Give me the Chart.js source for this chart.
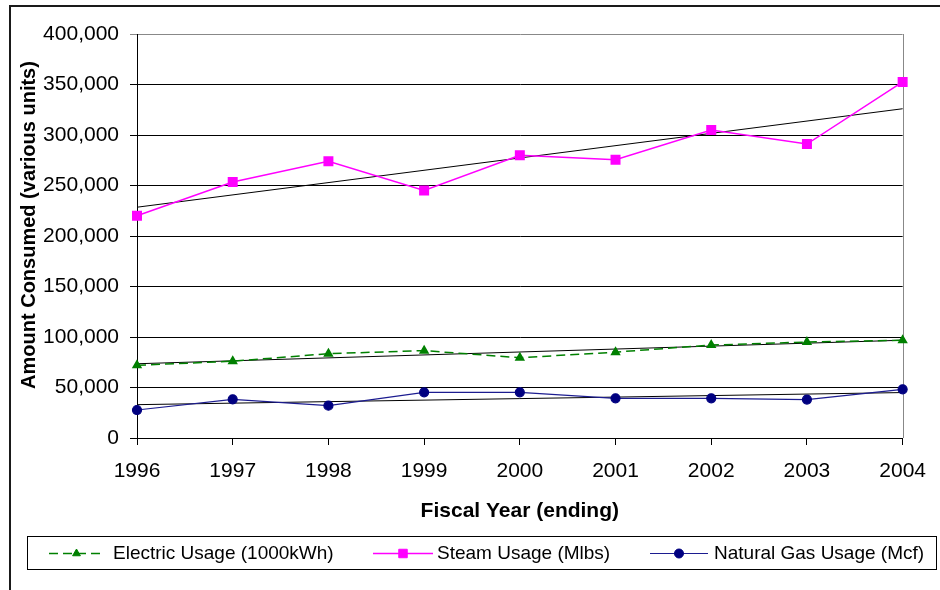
<!DOCTYPE html>
<html>
<head>
<meta charset="utf-8">
<script src="https://cdn.jsdelivr.net/npm/chart.js@4.4.1/dist/chart.umd.min.js"></script>
<style>
  html, body { margin: 0; padding: 0; background: #fff; }
  #wrap { width: 940px; height: 590px; }
</style>
</head>
<body>
<div id="wrap"><canvas id="usage-chart" width="940" height="590"></canvas></div>
<script>
// Fiscal years (x axis categories)
const years = ['1996', '1997', '1998', '1999', '2000', '2001', '2002', '2003', '2004'];

// Yearly consumption
const electricUsage = [72000, 76000, 83500, 86500, 79500, 85000, 92000, 95000, 96700];
const steamUsage = [220000, 253500, 274000, 245000, 280000, 275500, 305000, 291000, 352500];
const gasUsage = [27700, 38300, 32000, 45200, 45200, 39300, 39300, 38000, 48200];

// Linear trendlines: value at first and last year
const electricTrend = [73500, 96800];
const steamTrend = [228500, 326000];
const gasTrend = [33000, 45000];

// Y axis range
const yMin = 0;
const yMax = 400000;
const yStep = 50000;

const fontFamily = "'Liberation Sans', Arial, sans-serif";

// turn two end values into a straight line across the category axis
function trendPoints(ends) {
    return [
        { x: years[0], y: ends[0] },
        { x: years[years.length - 1], y: ends[1] }
    ];
}

function trendDataset(ends) {
    return {
        label: '',
        data: trendPoints(ends),
        borderColor: '#000',
        borderWidth: 1,
        pointRadius: 0,
        fill: false,
        tension: 0,
        clip: false,
        isTrend: true
    };
}

// Outer frame of the chart (only left and top edges are visible)
const framePlugin = {
    id: 'frame',
    beforeDraw(chart) {
        const ctx = chart.ctx;
        ctx.save();
        ctx.fillStyle = '#fff';
        ctx.fillRect(0, 0, chart.width, chart.height);
        ctx.strokeStyle = '#1a1a1a';
        ctx.lineWidth = 2;
        ctx.strokeRect(10, 6, chart.width + 20, chart.height + 20);
        ctx.restore();
    }
};

// Grey right edge of the plot area
const plotEdgePlugin = {
    id: 'plotEdge',
    beforeDatasetsDraw(chart) {
        const { ctx, chartArea } = chart;
        const x = Math.round(chartArea.right) + 0.5;
        ctx.save();
        ctx.strokeStyle = '#888';
        ctx.lineWidth = 1;
        ctx.beginPath();
        ctx.moveTo(x, chartArea.top);
        ctx.lineTo(x, chartArea.bottom);
        ctx.stroke();
        ctx.restore();
    }
};

// Y axis title, sitting a bit above the plot centre like the original
const yTitlePlugin = {
    id: 'yTitle',
    afterDraw(chart) {
        const ctx = chart.ctx;
        ctx.save();
        ctx.translate(29.5, 225);
        ctx.rotate(-Math.PI / 2);
        ctx.fillStyle = '#000';
        ctx.font = "bold 20px " + fontFamily;
        ctx.textAlign = 'center';
        ctx.textBaseline = 'middle';
        ctx.fillText('Amount Consumed (various units)', 0, 0);
        ctx.restore();
    }
};

// Boxed legend under the x axis title
const legendSlots = [
    { dataset: 0, lineFrom: 49, lineTo: 104, textX: 113 },
    { dataset: 1, lineFrom: 373, lineTo: 433, textX: 437 },
    { dataset: 2, lineFrom: 650, lineTo: 708, textX: 714 }
];

const boxLegendPlugin = {
    id: 'boxLegend',
    afterDraw(chart) {
        const ctx = chart.ctx;
        const yMid = 553.5;
        ctx.save();
        ctx.strokeStyle = '#000';
        ctx.lineWidth = 1;
        ctx.strokeRect(27.5, 536.5, 909, 33);

        legendSlots.forEach(slot => {
            const ds = chart.data.datasets[slot.dataset];
            ctx.save();
            ctx.strokeStyle = ds.borderColor;
            ctx.lineWidth = ds.borderWidth;
            ctx.setLineDash(ds.borderDash || []);
            ctx.beginPath();
            ctx.moveTo(slot.lineFrom, yMid);
            ctx.lineTo(slot.lineTo, yMid);
            ctx.stroke();
            ctx.setLineDash([]);
            ctx.fillStyle = ds.pointBackgroundColor;
            ctx.strokeStyle = ds.pointBorderColor;
            ctx.lineWidth = 1;
            Chart.helpers.drawPoint(ctx, {
                pointStyle: ds.pointStyle,
                radius: ds.pointRadius,
                borderWidth: 1,
                rotation: 0
            }, (slot.lineFrom + slot.lineTo) / 2, yMid);
            ctx.restore();

            ctx.fillStyle = '#000';
            ctx.font = "19px " + fontFamily;
            ctx.textAlign = 'left';
            ctx.textBaseline = 'middle';
            ctx.fillText(ds.label, slot.textX, yMid);
        });
        ctx.restore();
    }
};

const ctxUsage = document.getElementById('usage-chart').getContext('2d');
const usageChart = new Chart(ctxUsage, {
    type: 'line',
    data: {
        labels: years,
        datasets: [{
            label: 'Electric Usage (1000kWh)',
            data: electricUsage,
            borderColor: '#008000',
            borderWidth: 1.5,
            borderDash: [9, 5],
            pointStyle: 'triangle',
            pointRadius: 4.5,
            pointBackgroundColor: '#008000',
            pointBorderColor: '#008000',
            tension: 0,
            clip: false
        }, {
            label: 'Steam Usage (Mlbs)',
            data: steamUsage,
            borderColor: '#ff00ff',
            borderWidth: 1.5,
            pointStyle: 'rect',
            pointRadius: 6,
            pointBackgroundColor: '#ff00ff',
            pointBorderColor: '#ff00ff',
            tension: 0,
            clip: false
        }, {
            label: 'Natural Gas Usage (Mcf)',
            data: gasUsage,
            borderColor: '#1c1c90',
            borderWidth: 1.2,
            pointStyle: 'circle',
            pointRadius: 4.5,
            pointBackgroundColor: '#000080',
            pointBorderColor: '#000080',
            tension: 0,
            clip: false
        },
        trendDataset(electricTrend),
        trendDataset(steamTrend),
        trendDataset(gasTrend)]
    },
    options: {
        responsive: false,
        animation: false,
        layout: { padding: { left: 10, top: 34, right: 37, bottom: 62 } },
        plugins: {
            legend: { display: false },
            tooltip: { enabled: false }
        },
        scales: {
            x: {
                type: 'category',
                offset: false,
                grid: { display: true, drawOnChartArea: false, drawTicks: true, tickLength: 7, color: '#000' },
                border: { display: true, color: '#000', width: 1 },
                ticks: {
                    color: '#000',
                    font: { family: fontFamily, size: 21 },
                    padding: 14,
                    autoSkip: false,
                    maxRotation: 0
                },
                title: {
                    display: true,
                    text: 'Fiscal Year (ending)',
                    color: '#000',
                    font: { family: fontFamily, size: 21, weight: 'bold' },
                    padding: { top: 0, bottom: 4 }
                },
                afterFit: scale => { scale.height = 90; }
            },
            y: {
                min: yMin,
                max: yMax,
                grid: {
                    color: c => (c.tick && c.tick.value === yMax) ? '#888' : '#000',
                    tickLength: 7
                },
                border: { display: true, color: '#000', width: 1 },
                ticks: {
                    stepSize: yStep,
                    padding: 11,
                    color: '#000',
                    font: { family: fontFamily, size: 21 },
                    callback: v => v.toLocaleString('en-US')
                },
                afterFit: scale => { scale.width = 127; }
            }
        }
    },
    plugins: [framePlugin, plotEdgePlugin, yTitlePlugin, boxLegendPlugin]
});
</script>
</body>
</html>
